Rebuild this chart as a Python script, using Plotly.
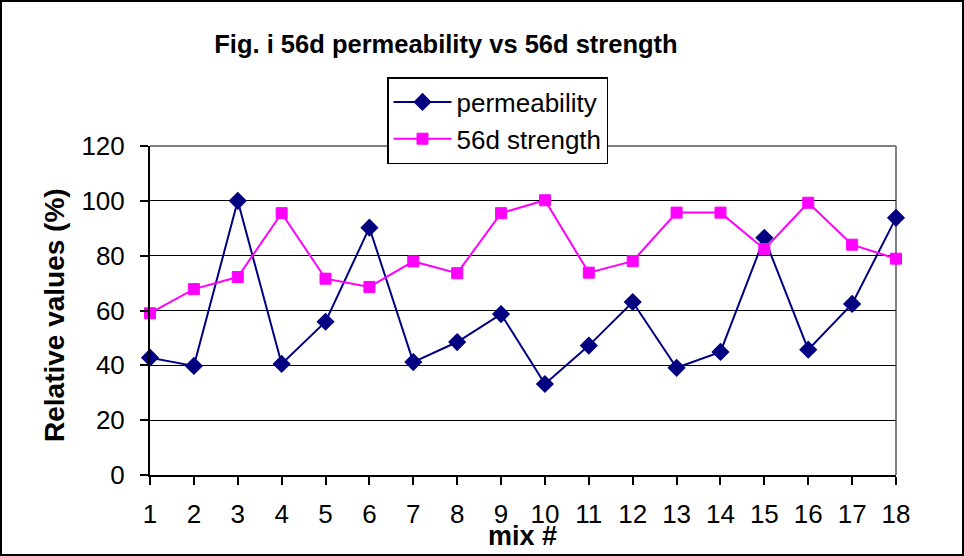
import plotly.graph_objects as go

mix = list(range(1, 19))
permeability = [42.8, 39.8, 100, 40.5, 55.9, 90.2, 41.2, 48.5, 58.7, 33.2,
                47.2, 63.1, 39.1, 44.9, 86.5, 45.7, 62.4, 93.8]
strength56 = [59.0, 67.8, 72.2, 95.5, 71.6, 68.6, 77.9, 73.6, 95.5, 100.2,
              73.8, 78.0, 95.7, 95.7, 82.4, 99.3, 84.0, 78.9]
y_ticks = [0, 20, 40, 60, 80, 100, 120]

FONT = "Arial, Liberation Sans, sans-serif"
W, H = 964, 556
L, R, T, B = 150, 896, 146, 475
pw, ph = R - L, B - T

def px(x):
    return (x - L) / pw

def py(y):
    return (B - y) / ph

fig = go.Figure()
fig.add_trace(go.Scatter(
    x=mix, y=permeability, name="permeability", mode="lines+markers",
    line=dict(color="#000080", width=2),
    marker=dict(symbol="diamond", size=14, color="#000080"),
    cliponaxis=False,
))
fig.add_trace(go.Scatter(
    x=mix, y=strength56, name="56d strength", mode="lines+markers",
    line=dict(color="#FF00FF", width=2),
    marker=dict(symbol="square", size=11, color="#FF00FF",
                line=dict(color="#FF00FF", width=1)),
    cliponaxis=False,
))

fig.update_layout(
    width=W, height=H,
    margin=dict(l=L, r=W - R, t=T, b=H - B),
    paper_bgcolor="white", plot_bgcolor="white",
    font=dict(family=FONT, size=26, color="black"),
    title=dict(text="<b>Fig. i 56d permeability vs 56d strength</b>",
               x=446 / W, xref="container", xanchor="center",
               y=1 - 44 / H, yref="container", yanchor="middle",
               font=dict(size=25.5, family=FONT, color="black")),
    showlegend=True,
    legend=dict(x=px(387), y=py(77), xanchor="left", yanchor="top",
                bordercolor="black", borderwidth=1.5, bgcolor="white",
                font=dict(size=26, family=FONT), tracegroupgap=0,
                itemwidth=58),
    xaxis=dict(range=[1, 18], tickmode="array", tickvals=mix,
               ticks="outside", ticklen=8, tickcolor="black", tickwidth=2,
               showline=True, linecolor="black", linewidth=2,
               showgrid=False, zeroline=False, ticklabelstandoff=7,
               tickfont=dict(size=26, family=FONT)),
    yaxis=dict(range=[0, 120], tickmode="array", tickvals=y_ticks,
               ticks="outside", ticklen=8, tickcolor="black", tickwidth=2,
               showline=True, linecolor="black", linewidth=2,
               showgrid=True, gridcolor="black", gridwidth=1,
               zeroline=False, ticklabelstandoff=10,
               tickfont=dict(size=26, family=FONT)),
    shapes=[
        dict(type="rect", xref="paper", yref="paper",
             x0=px(1), x1=px(W - 1), y0=py(H - 1), y1=py(1),
             line=dict(color="black", width=2), layer="below"),
        dict(type="line", xref="paper", yref="paper",
             x0=0, x1=1, y0=1, y1=1,
             line=dict(color="#808080", width=2), layer="above"),
        dict(type="line", xref="paper", yref="paper",
             x0=1, x1=1, y0=0, y1=1,
             line=dict(color="#808080", width=2), layer="below"),
    ],
    annotations=[
        dict(text="<b>mix #</b>", xref="paper", yref="paper",
             x=px(522), y=py(536), xanchor="center", yanchor="middle",
             showarrow=False, font=dict(size=27, family=FONT)),
        dict(text="<b>Relative values (%)</b>", xref="paper", yref="paper",
             x=px(54), y=py(315), xanchor="center", yanchor="middle",
             textangle=-90, showarrow=False, font=dict(size=28, family=FONT)),
    ],
)

fig.write_html("out.html", config={"displayModeBar": False},
               post_script="document.body.style.margin='0';")
